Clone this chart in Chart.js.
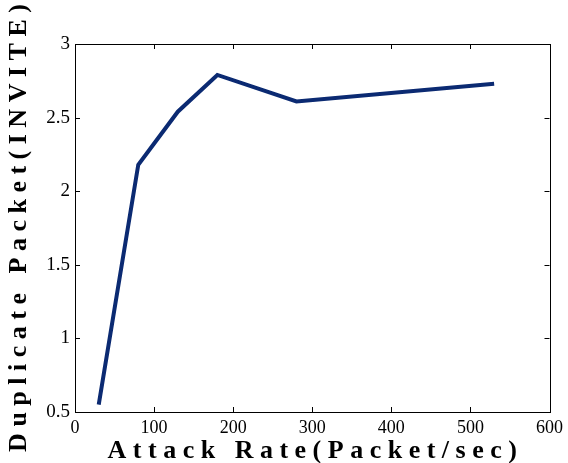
<!DOCTYPE html>
<html>
<head>
<meta charset="utf-8">
<script src="https://cdn.jsdelivr.net/npm/chart.js@4"></script>
<style>
  html, body { margin: 0; padding: 0; background: #fff; }
  #wrap { width: 568px; height: 463px; }
</style>
</head>
<body>
<div id="wrap"><canvas id="myChart"></canvas></div>
<script>
const rates = [30, 80, 130, 180, 280, 530];
const duplicates = [0.55, 2.18, 2.54, 2.79, 2.61, 2.73];
const xTicks = [0, 100, 200, 300, 400, 500, 600];
const yTicks = [0.5, 1, 1.5, 2, 2.5, 3];

const serif = "'Liberation Serif', 'Times New Roman', serif";

// box around the plot with short inward tick marks on every side
const boxPlugin = {
  id: 'box',
  afterDraw(chart) {
    const c = chart.ctx, a = chart.chartArea;
    const x = chart.scales.x, y = chart.scales.y;
    c.save();
    c.strokeStyle = '#000';
    c.lineWidth = 1;
    c.beginPath();
    xTicks.forEach(v => {
      const px = Math.round(x.getPixelForValue(v)) + 0.5;
      c.moveTo(px, a.bottom); c.lineTo(px, a.bottom - 5);
      c.moveTo(px, a.top); c.lineTo(px, a.top + 5);
    });
    yTicks.forEach(v => {
      const py = Math.round(y.getPixelForValue(v)) + 0.5;
      c.moveTo(a.left, py); c.lineTo(a.left + 5, py);
      c.moveTo(a.right, py); c.lineTo(a.right - 5, py);
    });
    c.stroke();
    c.strokeRect(Math.round(a.left) + 0.5, Math.round(a.top) + 0.5,
                 Math.round(a.right - a.left), Math.round(a.bottom - a.top));
    c.restore();
  }
};

new Chart(document.getElementById('myChart'), {
  type: 'line',
  data: {
    datasets: [{
      data: rates.map((r, i) => ({ x: r, y: duplicates[i] })),
      borderColor: '#0b2a72',
      borderWidth: 4,
      pointRadius: 0,
      fill: false,
      tension: 0
    }]
  },
  options: {
    responsive: true,
    maintainAspectRatio: false,
    animation: false,
    layout: { padding: { top: 44, right: 17, left: 0, bottom: 0 } },
    scales: {
      x: {
        type: 'linear',
        min: 0, max: 600,
        afterBuildTicks: s => { s.ticks = xTicks.map(v => ({ value: v })); },
        afterFit: s => { s.height = 51; },
        grid: { display: false, drawTicks: false },
        border: { display: false },
        ticks: { color: '#000', padding: 5, maxRotation: 0, font: { family: serif, size: 18 } },
        title: {
          display: true,
          text: 'A t t a c k   R a t e ( P a c k e t / s e c )',
          color: '#000',
          padding: { top: 0, bottom: -4 },
          font: { family: serif, size: 26, weight: 'bold' }
        }
      },
      y: {
        min: 0.5, max: 3,
        afterBuildTicks: s => { s.ticks = yTicks.map(v => ({ value: v })); },
        afterFit: s => { s.width = 75; },
        grid: { display: false, drawTicks: false },
        border: { display: false },
        ticks: {
          color: '#000', padding: 5,
          font: { family: serif, size: 19 },
          callback: v => String(v)
        },
        title: {
          display: true,
          text: 'D u p l i c a t e   P a c k e t ( I N V I T E )',
          color: '#000',
          padding: { top: 4, bottom: 0 },
          font: { family: serif, size: 26, weight: 'bold' }
        }
      }
    },
    plugins: {
      legend: { display: false },
      tooltip: { enabled: false }
    }
  },
  plugins: [boxPlugin]
});
</script>
</body>
</html>
